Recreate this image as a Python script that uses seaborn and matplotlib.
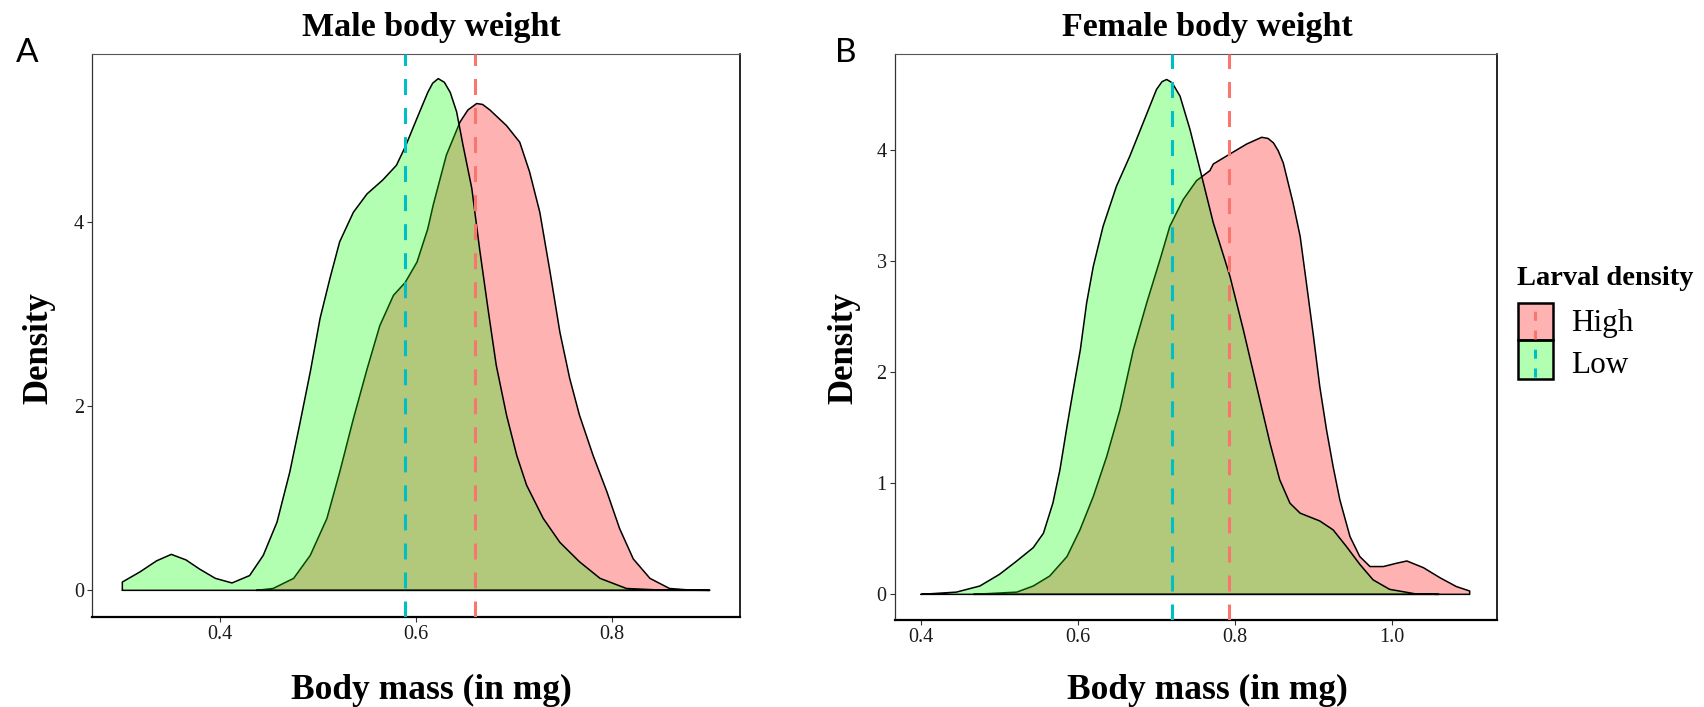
import numpy as np
import pandas as pd
import matplotlib
matplotlib.use("Agg")
import matplotlib.pyplot as plt
import matplotlib.colors as mcolors
from matplotlib.patches import Rectangle
from matplotlib.lines import Line2D
import seaborn as sns

# ---------------- data ----------------
groups = ["High", "Low"]
fill_colors = {"High": "#FF0000", "Low": "#00FF00"}
mean_colors = {"High": "#F8766D", "Low": "#00BFC4"}

# Male panel: density curves
male_high_x = [0.437, 0.454, 0.475, 0.492, 0.509, 0.522, 0.536, 0.550, 0.563, 0.577,
               0.589, 0.601, 0.612, 0.6176, 0.631, 0.645, 0.653, 0.662, 0.668, 0.6755,
               0.6925, 0.706, 0.716, 0.7265, 0.737, 0.747, 0.757, 0.767, 0.781, 0.795,
               0.808, 0.822, 0.839, 0.859, 0.880, 0.900]
male_high_d = [0.0, 0.02, 0.13, 0.38, 0.78, 1.28, 1.86, 2.40, 2.87, 3.20,
               3.34, 3.56, 3.92, 4.18, 4.72, 5.08, 5.21, 5.28, 5.27, 5.21,
               5.04, 4.86, 4.54, 4.10, 3.45, 2.80, 2.30, 1.90, 1.46, 1.07,
               0.67, 0.34, 0.13, 0.02, 0.003, 0.0]
male_low_x = [0.300, 0.318, 0.335, 0.350, 0.365, 0.379, 0.395, 0.412, 0.430, 0.444,
              0.458, 0.471, 0.481, 0.492, 0.502, 0.512, 0.522, 0.536, 0.550, 0.566,
              0.580, 0.589, 0.601, 0.612, 0.617, 0.6227, 0.629, 0.635, 0.6415, 0.648,
              0.657, 0.665, 0.674, 0.682, 0.6925, 0.703, 0.713, 0.730, 0.747, 0.767,
              0.788, 0.815, 0.850, 0.900]
male_low_d = [0.09, 0.20, 0.32, 0.39, 0.33, 0.23, 0.13, 0.08, 0.16, 0.38,
              0.74, 1.28, 1.79, 2.37, 2.95, 3.38, 3.78, 4.10, 4.30, 4.45,
              4.61, 4.81, 5.12, 5.40, 5.50, 5.55, 5.51, 5.40, 5.19, 4.83,
              4.36, 3.70, 3.02, 2.44, 1.90, 1.46, 1.14, 0.78, 0.52, 0.31,
              0.13, 0.02, 0.003, 0.0]

# Female panel: density curves
female_high_x = [0.467, 0.522, 0.543, 0.564, 0.586, 0.6025, 0.6195, 0.6366, 0.6535, 0.6705,
                 0.6875, 0.7045, 0.717, 0.734, 0.751, 0.768, 0.7724, 0.7936, 0.815, 0.834,
                 0.842, 0.849, 0.855, 0.8615, 0.874, 0.883, 0.891, 0.900, 0.908, 0.9166,
                 0.925, 0.9336, 0.9465, 0.959, 0.972, 0.989, 1.006, 1.019, 1.040, 1.061,
                 1.082, 1.099]
female_high_d = [0.0, 0.02, 0.075, 0.165, 0.34, 0.58, 0.88, 1.24, 1.66, 2.20,
                 2.62, 3.01, 3.31, 3.55, 3.72, 3.81, 3.87, 3.96, 4.05, 4.11,
                 4.10, 4.06, 3.99, 3.88, 3.52, 3.22, 2.80, 2.32, 1.87, 1.48,
                 1.15, 0.85, 0.52, 0.34, 0.25, 0.25, 0.28, 0.30, 0.24, 0.15,
                 0.07, 0.03]
female_low_x = [0.400, 0.445, 0.475, 0.500, 0.522, 0.543, 0.556, 0.568, 0.577, 0.586,
                0.594, 0.603, 0.611, 0.6195, 0.632, 0.649, 0.666, 0.683, 0.700, 0.707,
                0.713, 0.720, 0.730, 0.7427, 0.7576, 0.7724, 0.7936, 0.8106, 0.8276, 0.8446,
                0.857, 0.870, 0.883, 0.908, 0.925, 0.942, 0.959, 0.976, 0.997, 1.031,
                1.060]
female_low_d = [0.0, 0.02, 0.075, 0.18, 0.30, 0.42, 0.55, 0.82, 1.12, 1.51,
                1.84, 2.20, 2.62, 2.95, 3.31, 3.67, 3.94, 4.24, 4.54, 4.61,
                4.63, 4.60, 4.48, 4.18, 3.76, 3.34, 2.86, 2.38, 1.87, 1.36,
                1.03, 0.82, 0.73, 0.66, 0.58, 0.43, 0.27, 0.13, 0.045, 0.003,
                0.0]

# group means (dashed lines)
male_means = {"High": 0.660, "Low": 0.589}
female_means = {"High": 0.793, "Low": 0.720}

# ticks
male_xticks = [0.4, 0.6, 0.8]
male_xticklabels = ["0.4", "0.6", "0.8"]
male_yticks = [0, 2, 4]
male_yticklabels = ["0", "2", "4"]
female_xticks = [0.4, 0.6, 0.8, 1.0]
female_xticklabels = ["0.4", "0.6", "0.8", "1.0"]
female_yticks = [0, 1, 2, 3, 4]
female_yticklabels = ["0", "1", "2", "3", "4"]

titles = ["Male body weight", "Female body weight"]
panel_tags = ["A", "B"]
x_title = "Body mass (in mg)"
y_title = "Density"
legend_title = "Larval density"

# ---------------- style ----------------
W, H = 1704, 707
sns.set_theme(style="white")
plt.rcParams["font.family"] = ["Liberation Serif", "DejaVu Serif"]
plt.rcParams["lines.scale_dashes"] = False
DASH = (11.5, 9.4)

fig = plt.figure(figsize=(W / 100, H / 100), dpi=100)
fig.patch.set_facecolor("white")


def fx(x):
    return x / W


def fy(y):
    return 1 - y / H


def ax_at(l, t, r, b):
    return fig.add_axes([fx(l), fy(b), (r - l) / W, (b - t) / H])


def draw_panel(ax, curves, means, xlim, ylim, xticks, xlabels, yticks, ylabels):
    for g in groups:
        xs, ds = curves[g]
        df = pd.DataFrame({"mass": xs, "density": ds})
        ax.fill_between(df["mass"], df["density"], 0,
                        facecolor=mcolors.to_rgba(fill_colors[g], 0.3),
                        edgecolor="none", zorder=2)
        outline = pd.DataFrame({
            "mass": [xs[0]] + list(xs) + [xs[-1], xs[0]],
            "density": [0] + list(ds) + [0, 0],
        })
        sns.lineplot(data=outline, x="mass", y="density", sort=False,
                     estimator=None, color="black", linewidth=1.1, ax=ax,
                     zorder=2)
    for g in groups:
        ax.axvline(means[g], color=mean_colors[g], linewidth=2.2,
                   dashes=DASH, zorder=3)
    ax.set_xlim(*xlim)
    ax.set_ylim(*ylim)
    ax.set_xticks(xticks)
    ax.set_xticklabels(xlabels)
    ax.set_yticks(yticks)
    ax.set_yticklabels(ylabels)
    ax.set_xlabel("")
    ax.set_ylabel("")
    ax.tick_params(axis="both", which="major", direction="out", length=3.4,
                   width=0.8, color="#333333", labelsize=14.5,
                   labelcolor="#1a1a1a", pad=2.5,
                   bottom=True, left=True, top=False, right=False)
    ax.spines["bottom"].set_color("black")
    ax.spines["bottom"].set_linewidth(1.6)
    ax.spines["right"].set_color("black")
    ax.spines["right"].set_linewidth(1.2)
    ax.spines["left"].set_color("#333333")
    ax.spines["left"].set_linewidth(0.9)
    ax.spines["top"].set_color("#555555")
    ax.spines["top"].set_linewidth(0.8)
    ax.set_facecolor("white")
    ax.grid(False)


# Male panel
ax1 = ax_at(92, 54, 740, 616.7)
draw_panel(ax1,
           {"High": (male_high_x, male_high_d), "Low": (male_low_x, male_low_d)},
           male_means, (0.269, 0.931), (-0.286, 5.817),
           male_xticks, male_xticklabels, male_yticks, male_yticklabels)

# Female panel
ax2 = ax_at(894.7, 54, 1497, 619.7)
draw_panel(ax2,
           {"High": (female_high_x, female_high_d), "Low": (female_low_x, female_low_d)},
           female_means, (0.3665, 1.1338), (-0.228, 4.859),
           female_xticks, female_xticklabels, female_yticks, female_yticklabels)

# ---------------- texts ----------------
for tag, x in zip(panel_tags, [16, 835]):
    fig.text(fx(x), fy(62), tag, family=["Lato", "DejaVu Sans"], fontsize=24,
             ha="left", va="baseline", color="black")

for t, x in zip(titles, [431, 1207]):
    fig.text(fx(x), fy(36), t, fontsize=24.5, fontweight="bold",
             ha="center", va="baseline", color="black")

for x in [431, 1207]:
    fig.text(fx(x), fy(699), x_title, fontsize=25.5, fontweight="bold",
             ha="center", va="baseline", color="black")

for x in [39, 843.5]:
    fig.text(fx(x), fy(348), y_title, fontsize=25, fontweight="bold",
             rotation=90, ha="center", va="center", color="black")

# ---------------- legend ----------------
fig.text(fx(1517), fy(285), legend_title, fontsize=20.5, fontweight="bold",
         ha="left", va="baseline", color="black")
key_rows = [("High", 303, 340, 331.5), ("Low", 340, 379, 373)]
for g, top, bot, base in key_rows:
    fig.add_artist(Rectangle((fx(1517.5), fy(bot)), 35 / W, (bot - top) / H,
                             transform=fig.transFigure,
                             facecolor=mcolors.to_rgba(fill_colors[g], 0.3),
                             edgecolor="black", linewidth=1.8, zorder=5))
    fig.add_artist(Line2D([fx(1535), fx(1535)], [fy(bot - 1.5), fy(top + 1.5)],
                          transform=fig.transFigure, color=mean_colors[g],
                          linewidth=2.2, dashes=(6.5, 7), zorder=6))
    fig.text(fx(1571.5), fy(base), g, fontsize=22.5, ha="left", va="baseline",
             color="black")

fig.savefig("out.png", dpi=100, facecolor="white")
